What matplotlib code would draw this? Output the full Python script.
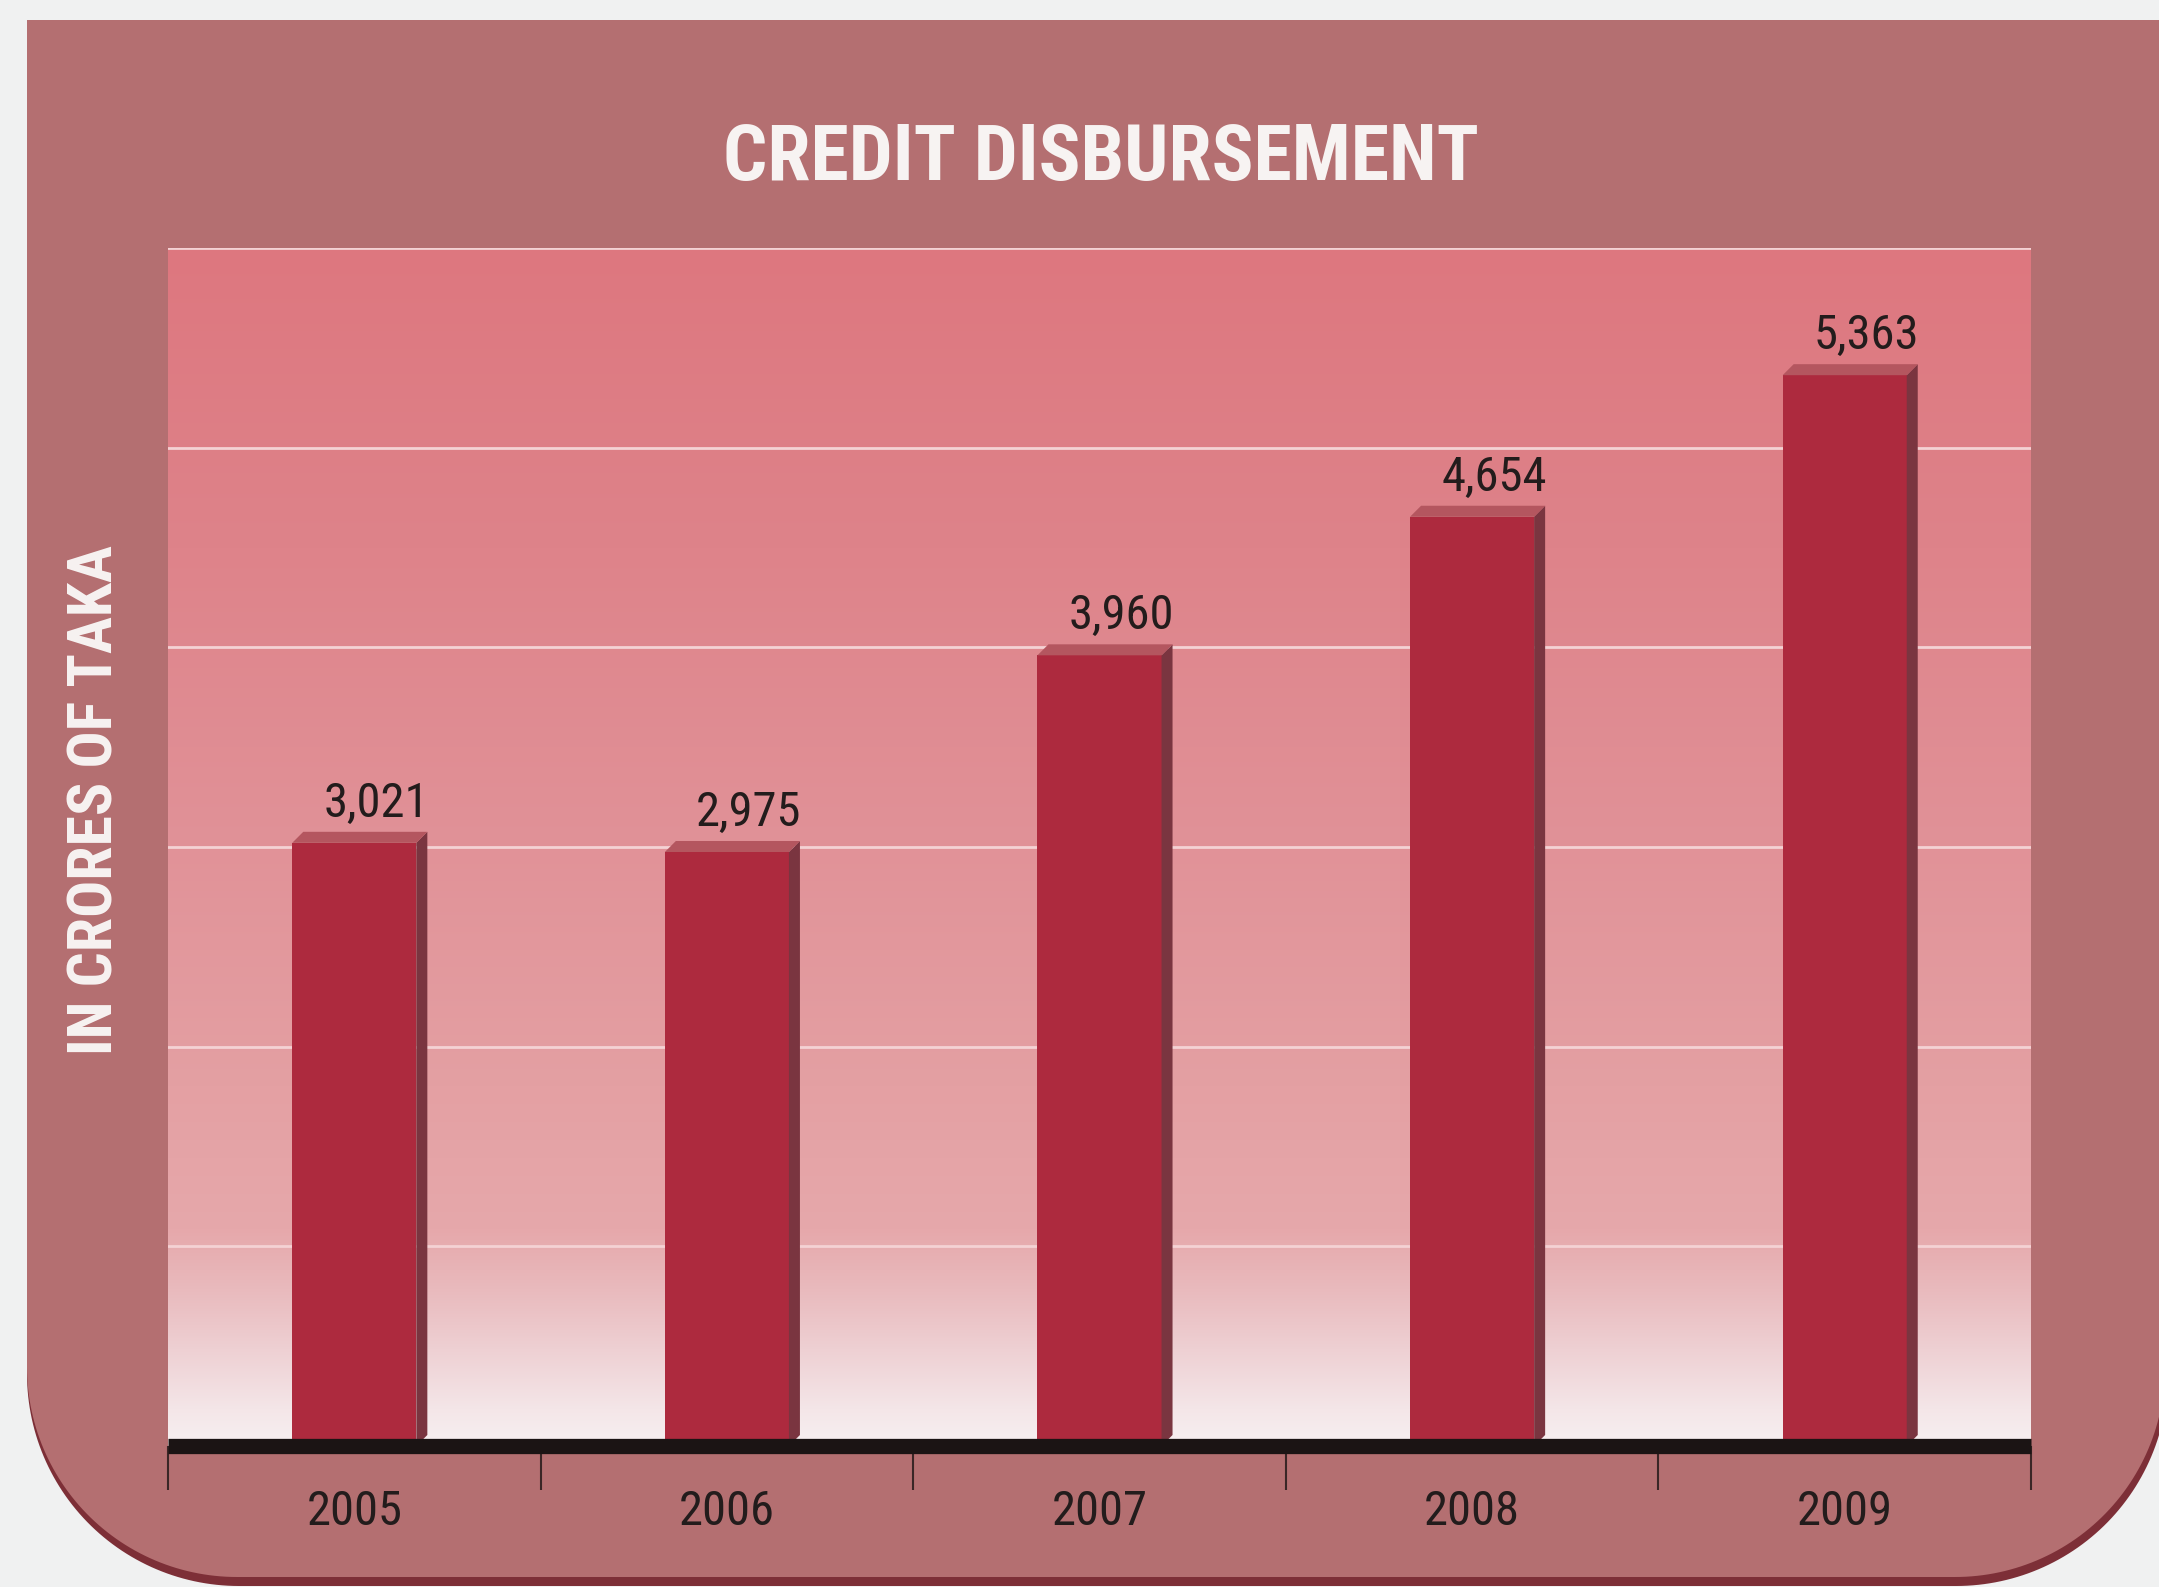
import numpy as np
import matplotlib
matplotlib.use("Agg")
import matplotlib.pyplot as plt
from matplotlib import font_manager
from matplotlib.patches import Polygon

# ---------------- data ----------------
years = ["2005", "2006", "2007", "2008", "2009"]
values = [3021, 2975, 3960, 4654, 5363]
value_labels = ["3,021", "2,975", "3,960", "4,654", "5,363"]
y_ticks = [0, 1000, 2000, 3000, 4000, 5000, 6000]
title = "CREDIT DISBURSEMENT"
ylabel = "IN CRORES OF TAKA"

# ---------------- fonts ----------------
names = {f.name for f in font_manager.fontManager.ttflist}
cond = None
for cand in ["Roboto Condensed", "Liberation Sans Narrow", "Open Sans Condensed", "Arial Narrow"]:
    if cand in names:
        cond = cand
        break
if cond is None:
    FONT = dict(family="DejaVu Sans", fontstretch="condensed")
else:
    FONT = dict(family=cond)

W, H = 2159, 1587
fig = plt.figure(figsize=(W / 100, H / 100), dpi=100)
fig.patch.set_facecolor("#f0f1f1")

# background panel (pixel coordinates)
bg = fig.add_axes([0, 0, 1, 1])
bg.set_xlim(0, W)
bg.set_ylim(H, 0)
bg.axis("off")


def panel(L, T, R, B, r):
    pts = [(L, T), (R, T), (R, B - r)]
    a = np.linspace(0, np.pi / 2, 60)
    cx, cy = R - r, B - r
    pts += [(cx + r * np.cos(t), cy + r * np.sin(t)) for t in a]
    cx, cy = L + r, B - r
    pts += [(cx - r * np.cos(t), cy + r * np.sin(t)) for t in a[::-1]]
    return pts


bg.add_patch(Polygon(panel(27, 30, 2168, 1586, 212), closed=True, fc="#7d2f37", ec="none"))
bg.add_patch(Polygon(panel(27, 20, 2165, 1577, 210), closed=True, fc="#b46f71", ec="none"))

# ---------------- main axes ----------------
left, right, top, base = 168, 2031, 248, 1446
ax = fig.add_axes([left / W, 1 - base / H, (right - left) / W, (base - top) / H])
ax.set_xlim(-0.5, len(years) - 0.5)
ax.set_ylim(0, 6000)

# gradient background
stops = np.array([0.0, 0.03, 0.08, 0.13, 0.18, 0.30, 0.50, 0.75, 1.0])
cols = np.array([
    (247, 240, 241), (244, 230, 232), (238, 208, 211), (233, 186, 189), (230, 168, 171),
    (228, 160, 163), (225, 146, 152), (222, 131, 138), (221, 119, 127)]) / 255.0
yy = np.linspace(0, 1, 600)
grad = np.stack([np.interp(yy, stops, cols[:, i]) for i in range(3)], axis=-1)[:, None, :]
ax.imshow(grad, extent=[-0.5, len(years) - 0.5, 0, 6000], origin="lower",
          aspect="auto", zorder=0, interpolation="bilinear")

ax.set_yticks(y_ticks)
ax.yaxis.grid(True, color="#f4d2d4", lw=2.0, zorder=0.5)
ax.tick_params(axis="y", left=False, labelleft=False)
ax.set_axisbelow(True)

for s in ["top", "right", "left"]:
    ax.spines[s].set_visible(False)
ax.spines["bottom"].set_color("#1b1414")
ax.spines["bottom"].set_linewidth(11)
ax.spines["bottom"].set_capstyle("butt")
ax.spines["bottom"].set_zorder(5)

# bars with 3D faces
x = np.arange(len(years))
bw = 0.333
px_x = (right - left) / len(years)
px_y = (base - top) / 6000
dx = 11 / px_x
dy = 11 / px_y
ax.bar(x, values, width=bw, color="#ad2a3e", zorder=2)
for xi, v in zip(x, values):
    xr = xi + bw / 2
    xl = xi - bw / 2
    ax.add_patch(Polygon([(xr, 0), (xr + dx, dy), (xr + dx, v + dy), (xr, v)],
                         closed=True, fc="#7a3540", ec="none", zorder=2))
    ax.add_patch(Polygon([(xl, v), (xl + dx, v + dy), (xr + dx, v + dy), (xr, v)],
                         closed=True, fc="#b4565f", ec="none", zorder=2))

for xi, v, lab in zip(x, values, value_labels):
    ax.annotate(lab, xy=(xi, v), xytext=(22 * 0.72, 26 * 0.72), textcoords="offset points",
                ha="center", va="baseline", fontsize=35, color="#231c1c", zorder=6, **FONT)

# x ticks
ax.set_xticks(x)
ax.set_xticklabels(years, fontsize=35, color="#231c1c", **FONT)
ax.tick_params(axis="x", which="major", length=0, pad=31)
ax.set_xticks(np.arange(-0.5, len(years), 1.0), minor=True)
ax.tick_params(axis="x", which="minor", length=32, width=1.5, color="#3a2626", direction="out")

# title and y label
fig.text(1101 / W, 1 - 159 / H, title, ha="center", va="center", fontsize=56,
         fontweight="bold", color="#f7f3f2", **FONT)
fig.text(96 / W, 1 - 800 / H, ylabel, ha="center", va="center", rotation=90,
         fontsize=44.5, fontweight="bold", color="#f7f3f2", **FONT)

fig.savefig("out.png", dpi=100, facecolor=fig.get_facecolor())
